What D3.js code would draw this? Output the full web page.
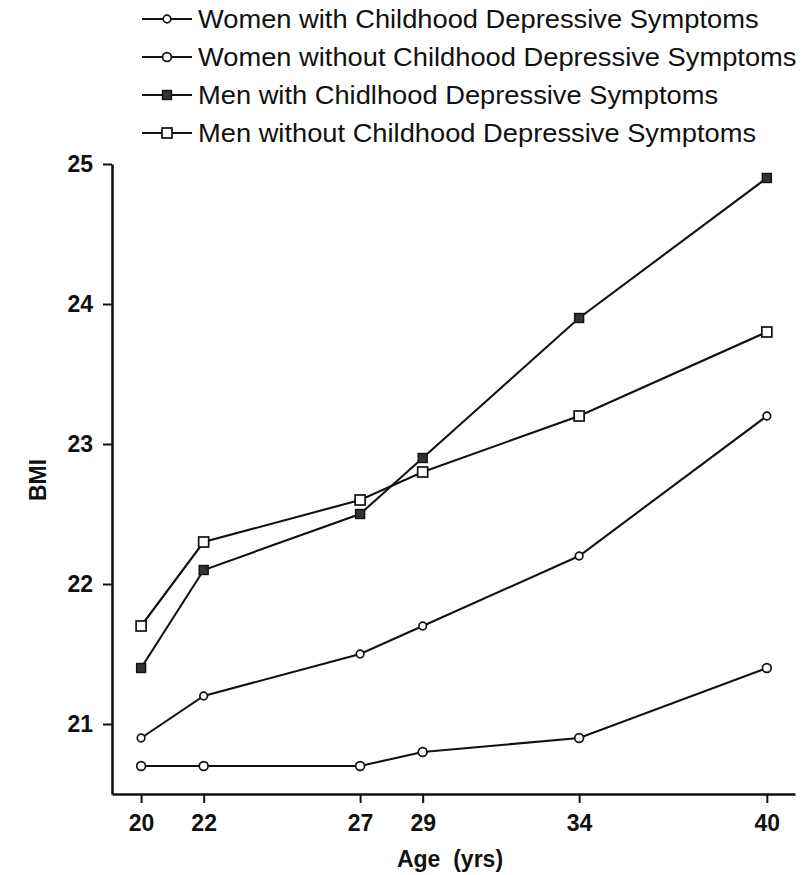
<!DOCTYPE html>
<html>
<head>
<meta charset="utf-8">
<script src="https://cdn.jsdelivr.net/npm/d3@7"></script>
<style>
  html, body { margin: 0; padding: 0; background: #fff; }
  svg { display: block; }
  text { font-family: "Liberation Sans", Arial, sans-serif; fill: #111; }
</style>
</head>
<body>
<svg id="chart" width="812" height="875"></svg>
<script>
// ---- data ----
const ages = [20, 22, 27, 29, 34, 40];
const womenWith    = [20.9, 21.2, 21.5, 21.7, 22.2, 23.2];
const womenWithout = [20.7, 20.7, 20.7, 20.8, 20.9, 21.4];
const menWith      = [21.4, 22.1, 22.5, 22.9, 23.9, 24.9];
const menWithout   = [21.7, 22.3, 22.6, 22.8, 23.2, 23.8];
const seriesNames = [
  "Women with Childhood Depressive Symptoms",
  "Women without Childhood Depressive Symptoms",
  "Men with Chidlhood Depressive Symptoms",
  "Men without Childhood Depressive Symptoms"
];
const yTicks = [21, 22, 23, 24, 25];
const xTicks = ages;
const xTitle = "Age  (yrs)";
const yTitle = "BMI";

const series = [
  { name: seriesNames[0], values: womenWith,    marker: "circleSmall" },
  { name: seriesNames[1], values: womenWithout, marker: "circle" },
  { name: seriesNames[2], values: menWith,      marker: "squareFilled" },
  { name: seriesNames[3], values: menWithout,   marker: "square" }
];

// ---- layout ----
const svg = d3.select("#chart");
const x = d3.scaleLinear().domain([19.07, 40.9]).range([112, 795]);
const y = d3.scaleLinear().domain([20.5, 25]).range([794, 164]);

function drawMarker(g, type, cx, cy) {
  if (type === "circleSmall") {
    g.append("circle").attr("cx", cx).attr("cy", cy).attr("r", 3.8)
      .attr("fill", "#fff").attr("stroke", "#111").attr("stroke-width", 1.7);
  } else if (type === "circle") {
    g.append("circle").attr("cx", cx).attr("cy", cy).attr("r", 4.4)
      .attr("fill", "#fff").attr("stroke", "#111").attr("stroke-width", 1.7);
  } else if (type === "squareFilled") {
    g.append("rect").attr("x", cx - 4.5).attr("y", cy - 4.5).attr("width", 9).attr("height", 9)
      .attr("fill", "#333").attr("stroke", "#111").attr("stroke-width", 1.4);
  } else if (type === "square") {
    g.append("rect").attr("x", cx - 5).attr("y", cy - 5).attr("width", 10).attr("height", 10)
      .attr("fill", "#fff").attr("stroke", "#111").attr("stroke-width", 1.7);
  }
}

// ---- axes ----
const yAxis = d3.axisLeft(y).tickValues(yTicks).tickFormat(d3.format("d"))
  .tickSize(9).tickSizeOuter(0).tickPadding(10);
const gy = svg.append("g").attr("transform", "translate(112,0)").call(yAxis);
gy.select(".domain").attr("stroke", "#111").attr("stroke-width", 2.6);
gy.selectAll(".tick line").attr("stroke", "#111").attr("stroke-width", 2);
gy.selectAll(".tick text").attr("font-size", 23).attr("font-weight", "bold")
  .attr("font-family", "'Liberation Sans', Arial, sans-serif").attr("fill", "#111");

const xAxis = d3.axisBottom(x).tickValues(xTicks).tickFormat(d3.format("d"))
  .tickSize(9).tickSizeOuter(0).tickPadding(12);
const gx = svg.append("g").attr("transform", "translate(0,794)").call(xAxis);
gx.select(".domain").attr("stroke", "#111").attr("stroke-width", 2.6);
gx.selectAll(".tick line").attr("stroke", "#111").attr("stroke-width", 2);
gx.selectAll(".tick text").attr("font-size", 23).attr("font-weight", "bold")
  .attr("font-family", "'Liberation Sans', Arial, sans-serif").attr("fill", "#111");

// axis titles
svg.append("text").attr("x", 450).attr("y", 867).attr("text-anchor", "middle")
  .attr("font-size", 23).attr("font-weight", "bold").style("white-space", "pre")
  .text(xTitle);
svg.append("text").attr("transform", "translate(46,480) rotate(-90)")
  .attr("text-anchor", "middle").attr("font-size", 23).attr("font-weight", "bold")
  .text(yTitle);

// ---- lines ----
const line = d3.line().x((d, i) => x(ages[i])).y(d => y(d));
const plot = svg.append("g");
series.forEach(s => {
  plot.append("path").datum(s.values).attr("d", line)
    .attr("fill", "none").attr("stroke", "#111").attr("stroke-width", 2.1);
});
series.forEach(s => {
  const mg = plot.append("g");
  s.values.forEach((v, i) => drawMarker(mg, s.marker, x(ages[i]), y(v)));
});

// ---- legend ----
const legend = svg.append("g");
series.forEach((s, i) => {
  const cy = 19 + i * 38;
  const row = legend.append("g");
  row.append("line").attr("x1", 142).attr("x2", 192).attr("y1", cy).attr("y2", cy)
    .attr("stroke", "#111").attr("stroke-width", 1.8);
  drawMarker(row, s.marker, 167, cy);
  row.append("text").attr("x", 198).attr("y", cy + 9)
    .attr("font-size", 25).attr("class", "legtext").text(s.name);
});
// horizontal stretch of legend text to match the reference's proportions
const t2 = legend.selectAll(".legtext").nodes()[1];
const w2 = t2.getComputedTextLength();
const k = 599 / w2;
legend.selectAll(".legtext").attr("transform", `translate(198,0) scale(${k},1) translate(-198,0)`);
</script>
</body>
</html>
